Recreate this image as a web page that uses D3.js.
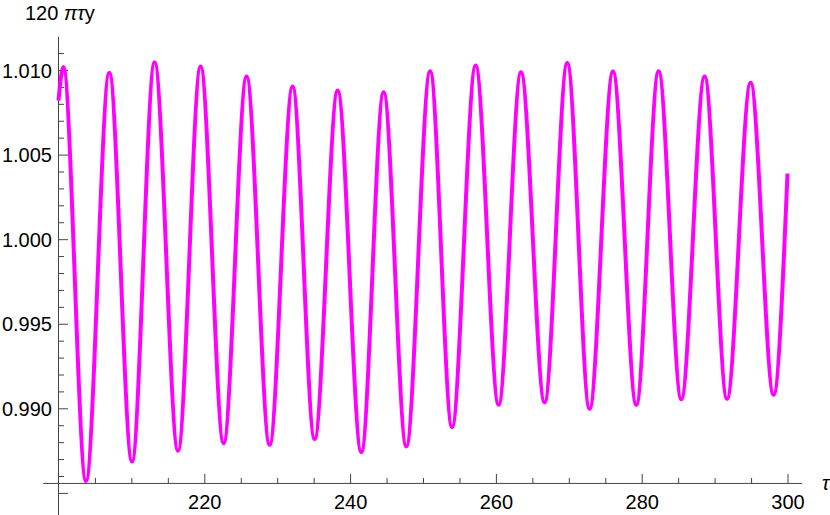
<!DOCTYPE html>
<html>
<head>
<meta charset="utf-8">
<script src="https://cdn.jsdelivr.net/npm/d3@7"></script>
<style>
  html, body { margin: 0; padding: 0; background: #fff; }
  svg { display: block; font-family: "Liberation Sans", Arial, sans-serif; }
</style>
</head>
<body>
<svg id="chart" width="830" height="515"></svg>
<script>
// ---- data (start, alternating peaks/troughs, end) ----
const tau = [200, 200.66, 203.77, 206.97, 210.08, 213.18, 216.39, 219.49, 222.65,
             225.80, 228.96, 232.11, 235.13, 238.29, 241.54, 244.60, 247.71,
             250.98, 253.98, 257.22, 260.37, 263.44, 266.68, 269.79, 272.85,
             276.06, 279.26, 282.32, 285.43, 288.63, 291.70, 294.94, 298.09, 300];
const yValues = [1.0082, 1.01017, 0.98570, 1.00984, 0.98685, 1.01046, 0.98749, 1.01021, 0.98794,
                 1.00962, 0.98784, 1.00902, 0.98818, 1.00879, 0.98741, 1.00869, 0.98775,
                 1.00993, 0.98889, 1.01027, 0.99021, 1.00987, 0.99035, 1.01042, 0.98997,
                 1.00991, 0.99021, 1.00993, 0.99054, 1.00962, 0.99056, 1.00924, 0.99080, 1.00388];

const xMajorTicks = [220, 240, 260, 280, 300];
const xMinorTicks = [205, 210, 215, 225, 230, 235, 245, 250, 255, 265, 270, 275, 285, 290, 295];
const yMajorTicks = [0.985, 0.990, 0.995, 1.000, 1.005, 1.010];
const yTickLabels = ["", "0.990", "0.995", "1.000", "1.005", "1.010"];
const yMinorTicks = [0.986, 0.987, 0.988, 0.989, 0.991, 0.992, 0.993, 0.994, 0.996, 0.997,
                     0.998, 0.999, 1.001, 1.002, 1.003, 1.004, 1.006, 1.007, 1.008, 1.009, 1.011];
const xAxisExtent = [197.9, 302.0];
const yAxisExtent = [0.98365, 1.01196];
const axesOrigin = [200, 0.98556];
const yTitle = ["120 ", "πτ", "y"];
const xTitle = "τ";

// ---- scales ----
const svg = d3.select("#chart");
const x = d3.scaleLinear().domain([200, 300]).range([58.5, 787.5]);
const y = d3.scaleLinear().domain([0.985, 1.010]).range([492.9, 70]);

const axisColor = "#444";
const x0 = x(axesOrigin[0]);
const y0 = y(axesOrigin[1]);

// axis lines
svg.append("line")
  .attr("x1", x(xAxisExtent[0])).attr("x2", x(xAxisExtent[1]))
  .attr("y1", y0).attr("y2", y0)
  .attr("stroke", axisColor).attr("stroke-width", 1);
svg.append("line")
  .attr("x1", x0).attr("x2", x0)
  .attr("y1", y(yAxisExtent[0])).attr("y2", y(yAxisExtent[1]))
  .attr("stroke", axisColor).attr("stroke-width", 1);

// x axis major
const gx = svg.append("g").attr("transform", `translate(0,${y0})`)
  .style("color", axisColor)
  .call(d3.axisBottom(x).tickValues(xMajorTicks).tickSize(-9.5).tickPadding(11.5)
        .tickFormat(d3.format("d")));
gx.select(".domain").remove();
gx.selectAll("text").attr("fill", "#000").style("font-size", "20px")
  .style("font-family", "'Liberation Sans', Arial, sans-serif");

// x axis minor
const gxm = svg.append("g").attr("transform", `translate(0,${y0})`)
  .style("color", axisColor)
  .call(d3.axisBottom(x).tickValues(xMinorTicks).tickSize(-5.5).tickFormat(""));
gxm.select(".domain").remove();

// y axis major
const gy = svg.append("g").attr("transform", `translate(${x0},0)`)
  .style("color", axisColor)
  .call(d3.axisLeft(y).tickValues(yMajorTicks).tickSize(-9.5).tickPadding(6.5)
        .tickFormat((d, i) => yTickLabels[i]));
gy.select(".domain").remove();
gy.selectAll("text").attr("fill", "#000").attr("dy", "0.36em").style("font-size", "20px")
  .style("font-family", "'Liberation Sans', Arial, sans-serif");

// y axis minor
const gym = svg.append("g").attr("transform", `translate(${x0},0)`)
  .style("color", axisColor)
  .call(d3.axisLeft(y).tickValues(yMinorTicks).tickSize(-5.5).tickFormat(""));
gym.select(".domain").remove();

// data line
const line = d3.line()
  .x((d, i) => x(tau[i]))
  .y(d => y(d))
  .curve(d3.curveMonotoneX);
svg.append("path")
  .datum(yValues)
  .attr("d", line)
  .attr("fill", "none")
  .attr("stroke", "#ff00ff")
  .attr("stroke-width", 4)
  .attr("stroke-linejoin", "round");

// axis titles
const yt = svg.append("text").attr("x", 25).attr("y", 20)
  .style("font-size", "20px").attr("fill", "#000");
yt.append("tspan").text(yTitle[0]);
yt.append("tspan").style("font-style", "italic").text(yTitle[1]);
yt.append("tspan").text(yTitle[2]);

svg.append("text").attr("x", 822).attr("y", 490)
  .style("font-size", "20px").style("font-style", "italic").attr("fill", "#000")
  .text(xTitle);
</script>
</body>
</html>
